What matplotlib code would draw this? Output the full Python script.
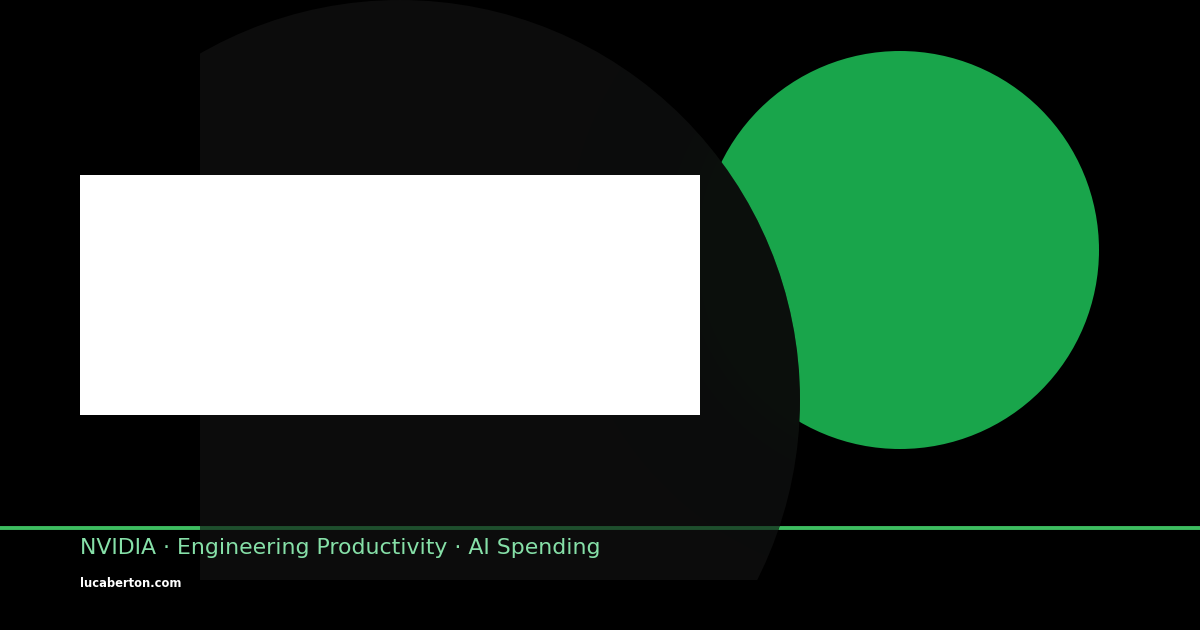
import numpy as np
import matplotlib
matplotlib.use("Agg")
import matplotlib.pyplot as plt
from matplotlib.patches import Circle, Rectangle

# ---- content ----
tags = ["NVIDIA", "Engineering Productivity", "AI Spending"]
site = "lucaberton.com"

W, H = 1200, 630
fig = plt.figure(figsize=(12, 6.3), dpi=100, facecolor="#000000")
ax = fig.add_axes([0, 0, 1, 1])
ax.set_xlim(0, W)
ax.set_ylim(H, 0)
ax.set_aspect("auto")
ax.axis("off")
ax.set_facecolor("#000000")

LINE_BRIGHT = "#3dbd60"
LINE_DIM = "#1e4f2d"

# green circle (back)
ax.add_patch(Circle((900, 250), 199, facecolor="#19a54b", edgecolor="none", zorder=1))

# accent line (full width)
ax.plot([0, W], [528, 528], color=LINE_BRIGHT, lw=2.8, solid_capstyle="butt", zorder=1.5)

# dark big shape: circle clipped to a rectangle
clip_rect = Rectangle((200, 0), 1000, 580, transform=ax.transData, facecolor="none", edgecolor="none")
ax.add_patch(clip_rect)
dark = Circle((400, 400), 400, facecolor="#0c0c0c", edgecolor="none", zorder=2)
ax.add_patch(dark)
dark.set_clip_path(clip_rect)

# subtle greenish glow inside the dark shape near the green circle
yy, xx = np.mgrid[0:H, 0:W]
d = np.hypot(xx - 900, yy - 250) - 199
glow = np.exp(-np.clip(d, 0, None) / 30.0) * (d > -300)
img = np.zeros((H, W, 4))
img[..., 0] = 0.04
img[..., 1] = 0.09
img[..., 2] = 0.05
img[..., 3] = glow * 0.35
im = ax.imshow(img, extent=(0, W, H, 0), zorder=2.5, interpolation="bilinear", aspect="auto")
im.set_clip_path(Circle((400, 400), 400, transform=ax.transData, facecolor="none", edgecolor="none"))

# darker line segment under the dark shape
seg, = ax.plot([200, W], [528, 528], color=LINE_DIM, lw=2.8, solid_capstyle="butt", zorder=3)
seg.set_clip_path(Circle((400, 400), 400, transform=ax.transData, facecolor="none", edgecolor="none"))

# white panel
ax.add_patch(Rectangle((80, 175), 620, 240, facecolor="#ffffff", edgecolor="none", zorder=4))

# footer texts
ax.text(80, 554, " · ".join(tags), color="#86e0a8", fontsize=15.8,
        family="DejaVu Sans", ha="left", va="baseline", zorder=5)
ax.text(80, 587, site, color="#ffffff", fontsize=8.3, fontweight="bold",
        family="DejaVu Sans", ha="left", va="baseline", zorder=5)

fig.savefig("out.png", dpi=100, facecolor="#000000")
